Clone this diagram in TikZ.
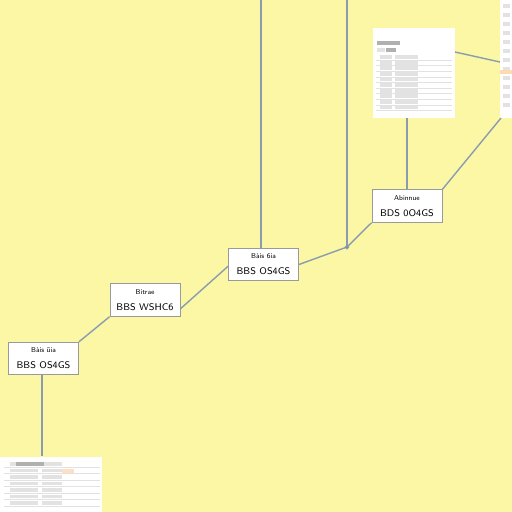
\documentclass[tikz,border=0pt]{standalone}
\usepackage{tikz}
\usetikzlibrary{positioning}

\definecolor{paper}{HTML}{FBF7A4}
\definecolor{wire}{HTML}{8C9CB0}
\definecolor{frame}{HTML}{9A9A9A}
\definecolor{barlight}{HTML}{E2E2E2}
\definecolor{bardark}{HTML}{B0B0B0}

\begin{document}
\begin{tikzpicture}[
    x=0.02cm, y=-0.02cm,
    tag/.style={draw=frame, fill=white, line width=0.5pt, minimum width=1.40cm, minimum height=0.65cm, inner sep=1pt, align=center, font=\sffamily},
    screen/.style={fill=white, draw=none, inner sep=0pt},
    wire/.style={draw=wire, line width=0.8pt},
    bar/.style={line width=2.2pt}]

		% background and frame of the page
		\fill[paper] (0,0) rectangle (512,512);
		\useasboundingbox (0,0) rectangle (512,512);

		% screenshots
		\node[screen, minimum width=1.64cm, minimum height=1.80cm] (shotA) at (414,73) {};
		\node[screen, minimum width=0.24cm, minimum height=2.36cm, anchor=north west] (shotB) at (500,0) {};
		\node[screen, minimum width=2.04cm, minimum height=1.10cm, anchor=south west] (shotC) at (0,512) {};

		% text rows of the screenshots
		\draw[bar, bardark] (377,43) -- (400,43);
		\draw[bar, barlight] (377,50) -- (385,50);
		\draw[bar, bardark] (386,50) -- (396,50);
		\foreach \r in {0,...,9}{
			\draw[bar, barlight] (380,57+5.6*\r) -- (392,57+5.6*\r);
			\draw[bar, barlight] (395,57+5.6*\r) -- (418,57+5.6*\r);
			\draw[line width=0.2pt, barlight] (376,60+5.6*\r) -- (452,60+5.6*\r);
		}
		\foreach \r in {0,...,11}{
			\draw[bar, barlight] (503,6+9*\r) -- (510,6+9*\r);
		}
		\draw[bar, orange!30] (500,72) -- (512,72);
		\foreach \r in {0,...,6}{
			\draw[bar, barlight] (10,464+6.5*\r) -- (38,464+6.5*\r);
			\draw[bar, barlight] (42,464+6.5*\r) -- (62,464+6.5*\r);
			\draw[line width=0.2pt, barlight] (4,467+6.5*\r) -- (100,467+6.5*\r);
		}
		\draw[bar, bardark] (16,464) -- (44,464);
		\draw[bar, orange!25] (62,471) -- (74,471);

		% labelled boxes
		\node[tag] (t1) at (43.5,358.5) {\fontsize{4}{5}\selectfont B\`ais \~uia\\[-3pt]\fontsize{5.5}{6}\selectfont BBS OS4GS};
		\node[tag] (t2) at (145,300) {\fontsize{4}{5}\selectfont Bitrae\\[-3pt]\fontsize{5.5}{6}\selectfont BBS WSHC6};
		\node[tag] (t3) at (263.5,264.5) {\fontsize{4}{5}\selectfont B\`ais 6ia\\[-3pt]\fontsize{5.5}{6}\selectfont BBS OS4GS};
		\node[tag] (t4) at (407,206) {\fontsize{4}{5}\selectfont Abinnue\\[-3pt]\fontsize{5.5}{6}\selectfont BDS 0O4GS};

		\coordinate (bend) at (347,247);
		\coordinate (topA) at (347,0);
		\coordinate (topB) at (261,0);
		\coordinate (sideB) at (500,62);
		\coordinate (footB) at (501,118);

		% connectors
		\draw[wire] (t1.north east) -- (t2.south west);
		\draw[wire] ([yshift=-5pt]t2.east) -- ([yshift=-1pt]t3.west);
		\draw[wire] (t3.east) -- (bend) -- (t4.south west);
		\draw[wire] (bend) -- (topA);
		\draw[wire] (t3.north -| topB) -- (topB);
		\draw[wire] (t4.north) -- (shotA.south -| t4.north);
		\draw[wire] (t4.north east) -- (footB);
		\draw[wire] (455,52) -- (sideB);
		\draw[wire] (t1.south -| 42,0) -- (shotC.north -| 42,0);
		\fill[wire] (bend) circle (1.5);

\end{tikzpicture}
\end{document}
